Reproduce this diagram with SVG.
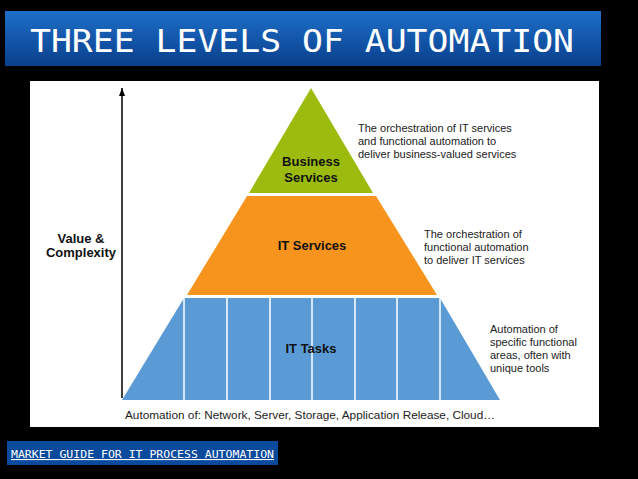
<svg xmlns="http://www.w3.org/2000/svg" width="638" height="479" viewBox="0 0 638 479">
<defs>
<linearGradient id="tg" x1="0" y1="0" x2="0" y2="1"><stop offset="0" stop-color="#1d6fc9"/><stop offset="1" stop-color="#0a3f8c"/></linearGradient>
<marker id="ah" markerWidth="9" markerHeight="8" refX="8" refY="4" orient="auto" markerUnits="userSpaceOnUse"><path d="M0,1 L8,4 L0,7 Z" fill="#000"/></marker>
<style>
.t{font-family:"Liberation Sans",Arial,sans-serif;font-size:11px;fill:#222}
.b{font-family:"Liberation Sans",Arial,sans-serif;font-size:13px;font-weight:bold;fill:#111;text-anchor:middle}
.m{font-family:"DejaVu Sans Mono",monospace;fill:#fff}
.v{stroke:#fff;stroke-width:1.5}
</style>
</defs>
<rect width="638" height="479" fill="#000"/>
<g id="title"><rect x="5" y="11" width="596" height="55" fill="url(#tg)"/>
<text class="m" x="30" y="52" font-size="32" textLength="544" lengthAdjust="spacingAndGlyphs">THREE LEVELS OF AUTOMATION</text></g>
<rect x="30" y="81" width="569" height="346" fill="#fff"/>
<g id="connectors"><line x1="122" y1="398" x2="122" y2="88" stroke="#000" stroke-width="1.5" marker-end="url(#ah)"/></g>
<g id="axis"><text class="b" x="81" y="243" font-size="12">Value &amp;</text><text class="b" x="81" y="257" font-size="12">Complexity</text></g>
<g id="business"><polygon points="311,88 373,193 249,193" fill="#9bbb0e"/>
<text class="b" x="311" y="166">Business</text><text class="b" x="311" y="182">Services</text>
<text class="t" x="358" y="132">The orchestration of IT services</text><text class="t" x="358" y="145">and functional automation to</text><text class="t" x="358" y="158">deliver business-valued services</text></g>
<g id="itservices"><polygon points="247,196 376,196 437,295 187,295" fill="#f7941d"/>
<text class="b" x="312" y="250">IT Services</text>
<text class="t" x="424" y="238">The orchestration of</text><text class="t" x="424" y="251">functional automation</text><text class="t" x="424" y="264">to deliver IT services</text></g>
<g id="ittasks"><polygon points="184,298 440,298 500,400 122,400" fill="#5b9bd5"/>
<line class="v" x1="184" y1="298" x2="184" y2="400"/><line class="v" x1="227" y1="298" x2="227" y2="400"/><line class="v" x1="270" y1="298" x2="270" y2="400"/><line class="v" x1="312" y1="298" x2="312" y2="400"/><line class="v" x1="355" y1="298" x2="355" y2="400"/><line class="v" x1="397" y1="298" x2="397" y2="400"/><line class="v" x1="440" y1="298" x2="440" y2="400"/>
<text class="b" x="311" y="353">IT Tasks</text>
<text class="t" x="490" y="333">Automation of</text><text class="t" x="490" y="346">specific functional</text><text class="t" x="490" y="359">areas, often with</text><text class="t" x="490" y="372">unique tools</text>
<text class="t" x="125" y="419" font-size="12" textLength="370" lengthAdjust="spacingAndGlyphs">Automation of: Network, Server, Storage, Application Release, Cloud…</text></g>
<g id="footer"><rect x="7" y="441" width="271" height="24" fill="#0a4a9c"/>
<text class="m" x="11" y="458" font-size="11" text-decoration="underline" textLength="263" lengthAdjust="spacingAndGlyphs">MARKET GUIDE FOR IT PROCESS AUTOMATION</text></g>
</svg>
